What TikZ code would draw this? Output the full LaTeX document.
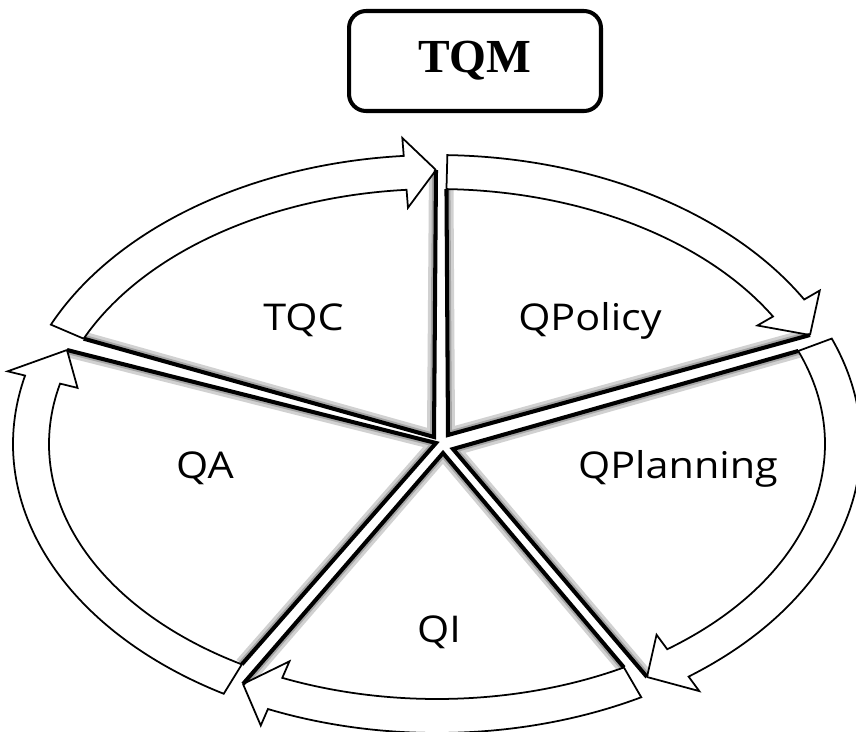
\documentclass[tikz,border=0pt]{standalone}
\usepackage{fontspec}
\setmainfont{Liberation Serif}
\newfontfamily\labelfont[FakeStretch=1.12]{Open Sans}
\usetikzlibrary{calc}
\begin{document}
\begin{tikzpicture}[x=0.02cm,y=-0.02cm,
  thinline/.style={draw=black,line width=1pt,line join=miter},
  thickline/.style={draw=black,line width=2.3pt,line join=miter},
  shadowwide/.style={draw=black!18,line width=8pt},
  shadownarrow/.style={draw=black!35,line width=4.5pt},
  seglabel/.style={font=\labelfont\fontsize{21}{25}\selectfont,anchor=base,inner sep=0pt},
  tqmbox/.style={draw=black,line width=2.3pt,rounded corners=0.34cm,minimum width=5.04cm,minimum height=2.0cm,font=\bfseries\fontsize{27}{32}\selectfont,fill=white}]
\useasboundingbox (0,0) rectangle (856,731);
\fill[white] (0,0) rectangle (856,731);
\coordinate (C) at (437,444);
% apexes and tips
\coordinate (TQC-apex) at (434,437);  \coordinate (TQC-tip) at (436,170);
\coordinate (QPo-apex) at (448,435);  \coordinate (QPo-tip) at (810,335);
\coordinate (QPl-apex) at (453,449);  \coordinate (QPl-tip) at (647,677);
\coordinate (QI-apex) at (443,453);   \coordinate (QI-tip) at (243,684);
\coordinate (QA-apex) at (436,443);   \coordinate (QA-tip) at (67,350);
\newcommand\segpiece[3]{%
  \coordinate (#1-to) at ($(C)+(#2:424 and 289)$);
  \coordinate (#1-ti) at ($(C)+(#2:388 and 255)$);
  \coordinate (#1-bo) at ($(C)+(#3:442 and 307)$);
  \coordinate (#1-bi) at ($(C)+(#3:370 and 237)$);
  \fill[white] (#1-apex) -- (#1-ti) -- (#1-to) arc[start angle=#2,end angle=#3,x radius=424,y radius=289] -- (#1-bo) -- (#1-tip) -- cycle;
  \begin{scope}
    \clip (#1-apex) -- (#1-ti) arc[start angle=#2,end angle=#3,x radius=388,y radius=255] -- (#1-bi) -- (#1-tip) -- cycle;
    \draw[shadowwide] (#1-ti) -- (#1-apex) -- (#1-tip);
    \draw[shadownarrow] (#1-ti) -- (#1-apex) -- (#1-tip);
  \end{scope}
  \draw[thinline] (#1-ti) -- (#1-to) arc[start angle=#2,end angle=#3,x radius=424,y radius=289] -- (#1-bo) -- (#1-tip);
  \draw[thinline] (#1-ti) arc[start angle=#2,end angle=#3,x radius=388,y radius=255] -- (#1-bi) -- (#1-tip);
  \draw[thickline] (#1-ti) -- (#1-apex) -- (#1-tip);
}
\segpiece{TQC}{-155.6}{-94.5}
\segpiece{QPo}{-88.6}{-30}
\segpiece{QPl}{-21.4}{53.6}
\segpiece{QI}{61.2}{113.5}
\segpiece{QA}{120.2}{193.7}
% labels
\node[seglabel] (tqc) at (303.5,330) {TQC};
\node[seglabel] (qpolicy) at (590,330) {QPolicy};
\node[seglabel] (qplanning) at (678,478) {QPlanning};
\node[seglabel] (qi) at (439,642) {QI};
\node[seglabel] (qa) at (205,478) {QA};
% title
\node[tqmbox] (tqm) at (475,61) {TQM};
\end{tikzpicture}
\end{document}
